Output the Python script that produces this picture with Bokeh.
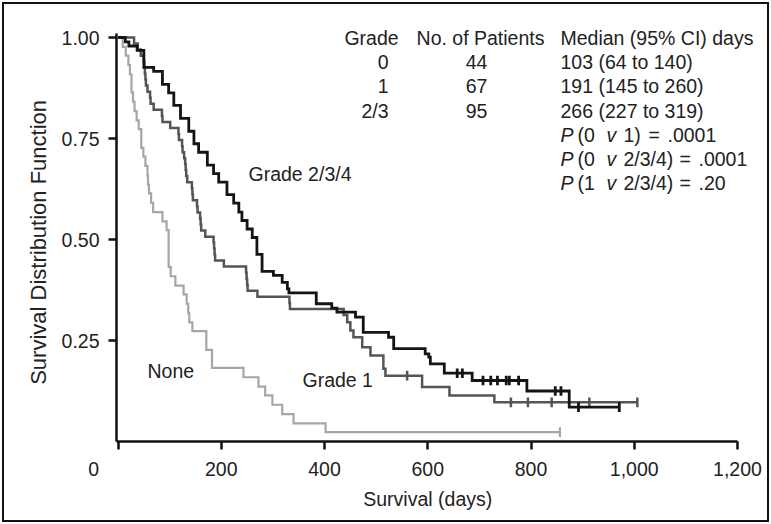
import numpy as np
from bokeh.plotting import figure
from bokeh.models import Label, FixedTicker, NumeralTickFormatter, InlineStyleSheet, Range1d
from bokeh.embed import file_html
from bokeh.resources import INLINE

# ---------------- data ----------------
# Grade 0 ("None"), n = 44
none_t = [9, 15, 20, 23, 26, 29, 32, 36, 40, 45, 49, 53, 57, 58, 60, 64, 68, 86, 94, 98,
          102, 111, 127, 133, 136, 138, 144, 171, 182, 243, 272, 285, 299, 318, 340, 402]
none_s = [0.977, 0.955, 0.932, 0.909, 0.864, 0.841, 0.818, 0.795, 0.773, 0.727,
          0.705, 0.682, 0.659, 0.636, 0.614, 0.591, 0.568, 0.545, 0.523, 0.432,
          0.409, 0.386, 0.364, 0.341, 0.318, 0.295, 0.273, 0.227, 0.182, 0.159,
          0.136, 0.114, 0.091, 0.068, 0.045, 0.023]
none_cens = [856]

# Grade 1, n = 67
g1_t = [31, 38, 44, 50, 51, 52, 53, 54, 57, 62, 63, 69, 85, 86, 101, 117, 118, 124, 125, 128,
        130, 131, 132, 134, 143, 144, 145, 153, 154, 159, 160, 161, 169, 185, 186, 187, 188,
        205, 248, 249, 250, 251, 270, 332, 333, 437, 444, 450, 456, 473, 489, 514, 518, 589,
        642, 729]
g1_s = [0.985, 0.970, 0.955, 0.940, 0.925, 0.910, 0.896, 0.881, 0.866, 0.851,
        0.836, 0.821, 0.806, 0.791, 0.776, 0.761, 0.746, 0.731, 0.716, 0.701,
        0.687, 0.672, 0.657, 0.642, 0.627, 0.612, 0.597, 0.582, 0.567, 0.552,
        0.537, 0.522, 0.507, 0.493, 0.478, 0.463, 0.448, 0.433, 0.418, 0.403,
        0.388, 0.373, 0.358, 0.343, 0.328, 0.313, 0.295, 0.275, 0.258, 0.233,
        0.213, 0.180, 0.163, 0.135, 0.114, 0.097]
g1_cens = [560, 761, 794, 840, 913, 1006]

# Grade 2/3/4, n = 95
bk_t = [14, 21, 37, 50, 69, 86, 98, 108, 121, 137, 147, 156, 173, 185, 195, 211, 224, 234,
        240, 250, 260, 269, 279, 301, 318, 328, 331, 384, 414, 424, 460, 475, 524, 534,
        595, 602, 605, 632, 686, 792, 874]
bk_s = [0.989, 0.979, 0.968, 0.926, 0.916, 0.884, 0.863, 0.832, 0.800, 0.768,
        0.737, 0.716, 0.684, 0.663, 0.642, 0.611, 0.590, 0.568, 0.547, 0.526,
        0.505, 0.463, 0.421, 0.411, 0.394, 0.378, 0.368, 0.341, 0.330, 0.320,
        0.308, 0.270, 0.258, 0.230, 0.217, 0.209, 0.192, 0.169, 0.151, 0.125,
        0.085]
bk_cens = [657, 667, 707, 722, 735, 752, 758, 776, 847, 858, 892, 971]

x_ticks = [0, 200, 400, 600, 800, 1000, 1200]
y_ticks = [0.25, 0.50, 0.75, 1.00]

table_head = ["Grade", "No. of Patients", "Median (95% CI) days"]
table_grade = ["0", "1", "2/3"]
table_n = ["44", "67", "95"]
table_median = ["103 (64 to 140)", "191 (145 to 260)", "266 (227 to 319)"]
p_rows = [("(0", "1)", ".0001"), ("(0", "2/3/4)", ".0001"), ("(1", "2/3/4)", ".20")]

# ---------------- layout ----------------
W, H = 771, 524
FL, FB = 116, 441                 # frame left / bottom (page px); frame runs to top & right edge
PX_PER_DAY = (737 - 116) / 1203.0
PX_PER_UNIT = 441 - 37
X0 = -3
X1 = X0 + (W - FL) / PX_PER_DAY
Y0 = 0
Y1 = FB / PX_PER_UNIT
FONT = "Liberation Sans"
FS = "19.5px"
TXT = "#222222"
NB = "\u00a0"

def xd(px):  # page pixel -> data x
    return X0 + (px - FL) / PX_PER_DAY

def yd(py):  # page pixel -> data y
    return (FB - py) / PX_PER_UNIT

p = figure(width=W, height=H, output_backend="svg", toolbar_location=None,
           x_range=Range1d(X0, X1), y_range=Range1d(Y0, Y1),
           min_border_left=FL, min_border_right=0,
           min_border_top=0, min_border_bottom=H - FB)
p.grid.visible = False
p.outline_line_color = None
p.background_fill_color = "white"
p.border_fill_color = "white"
p.stylesheets = [InlineStyleSheet(css=(
    ":host::after { content: ''; position: absolute; left: 2px; top: 2px; right: 2px; bottom: 2px;"
    " border: 2px solid #111; pointer-events: none; z-index: 1000; }"))]

for ax in (p.xaxis[0], p.yaxis[0]):
    ax.major_tick_out = 8
    ax.major_tick_in = 0
    ax.minor_tick_out = 0
    ax.minor_tick_in = 0
    ax.axis_line_width = 2.5
    ax.axis_line_color = "#111111"
    ax.major_tick_line_width = 2.5
    ax.major_tick_line_color = "#111111"
    ax.major_label_text_font = FONT
    ax.major_label_text_font_size = FS
    ax.major_label_text_color = TXT
    ax.axis_label_text_font = FONT
    ax.axis_label_text_font_size = FS
    ax.axis_label_text_font_style = "normal"
    ax.axis_label_text_color = TXT

p.xaxis.bounds = (X0, 1200)
p.xaxis.ticker = FixedTicker(ticks=x_ticks)
p.xaxis.formatter = NumeralTickFormatter(format="0,0")
p.xaxis.major_label_overrides = {0: "0" + NB * 9}
p.xaxis.axis_label = "Survival (days)" + NB * 6
p.xaxis.major_label_standoff = 8
p.xaxis.axis_label_standoff = 5

p.yaxis.bounds = (0, 1.01)
p.yaxis.ticker = FixedTicker(ticks=y_ticks)
p.yaxis.formatter = NumeralTickFormatter(format="0.00")
p.yaxis.axis_label = "Survival Distribution Function" + NB * 7
p.yaxis.axis_label_text_font_size = "22px"
p.yaxis.major_label_standoff = 9
p.yaxis.axis_label_standoff = 8

def surv_at(ts, ss, t):
    i = np.searchsorted(np.array(ts), t, side="right")
    return 1.0 if i == 0 else ss[i - 1]

def curve(ts, ss, cens, color, lw):
    end = max(cens)
    xs = [0] + list(ts) + [end]
    ys = [1.0] + list(ss) + [ss[-1]]
    p.step(xs, ys, mode="after", line_color=color, line_width=lw, line_join="miter")
    cy = [surv_at(ts, ss, c) for c in cens]
    p.segment(x0=cens, x1=cens, y0=[v - 0.012 for v in cy], y1=[v + 0.012 for v in cy],
              line_color=color, line_width=lw)

curve(none_t, none_s, none_cens, "#a6a6a6", 2.2)
curve(g1_t, g1_s, g1_cens, "#555555", 2.5)
curve(bk_t, bk_s, bk_cens, "#141414", 2.8)

def lab(text, px, py, align="left", style="normal"):
    p.add_layout(Label(x=xd(px), y=yd(py), text=text, text_align=align,
                       text_baseline="middle", text_font=FONT, text_font_size=FS,
                       text_font_style=style, text_color=TXT))

# curve labels
lab("Grade 2/3/4", 248, 173)
lab("None", 147, 370)
lab("Grade 1", 302, 379)

# table
row_y = [37.5 + 24.2 * i for i in range(7)]
lab(table_head[0], 371, row_y[0], "center")
lab(table_head[1], 480, row_y[0], "center")
lab(table_head[2], 560, row_y[0])
for i in range(3):
    lab(table_grade[i], 388, row_y[i + 1], "right")
    lab(table_n[i], 476, row_y[i + 1], "center")
    lab(table_median[i], 560, row_y[i + 1])
eq_x = [648, 679, 679]
for i, (a, b, c) in enumerate(p_rows):
    y = row_y[4 + i]
    lab("P", 560, y, style="italic")
    lab(a, 577, y)
    lab("v", 606, y, style="italic")
    lab(b, 623, y)
    lab("=", eq_x[i], y)
    lab(c, eq_x[i] + 19, y)

open("out.html", "w").write(file_html(p, INLINE))
